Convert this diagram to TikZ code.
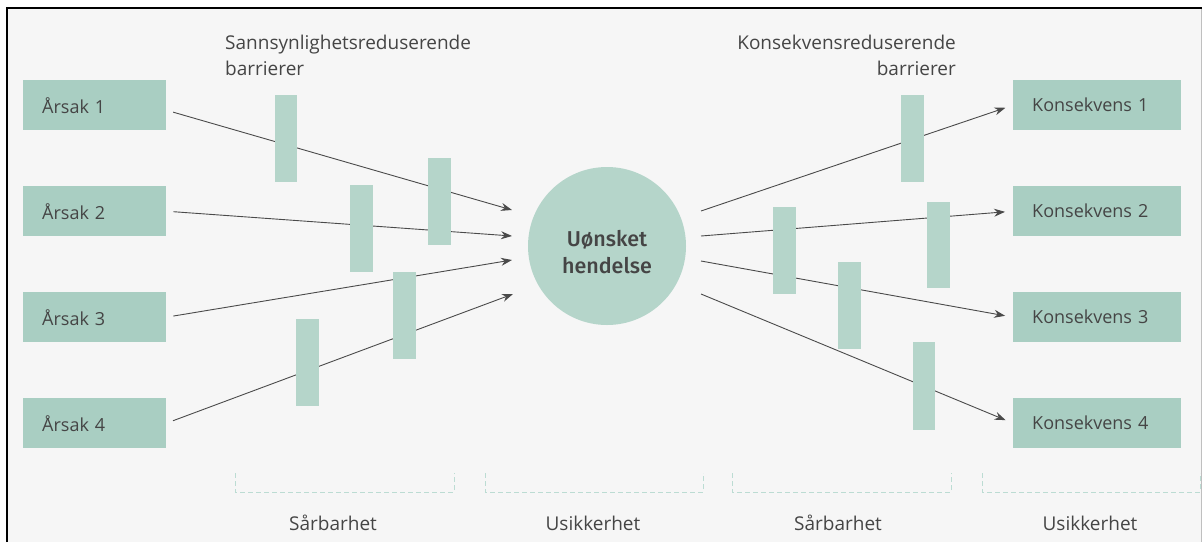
\documentclass[tikz,border=0pt]{standalone}
\usepackage{fontspec}
\setmainfont{Open Sans}
\newfontfamily\medfont{Fira Sans Medium}
\usetikzlibrary{arrows.meta}
\definecolor{bg}{HTML}{F6F6F6}
\definecolor{boxgreen}{HTML}{A9CEC2}
\definecolor{bargreen}{HTML}{B5D5CA}
\definecolor{dashgreen}{HTML}{BCDCD3}
\definecolor{txt}{HTML}{454545}
\definecolor{arrgray}{HTML}{4A4A4A}
\tikzset{
  cause/.style={fill=boxgreen, draw=none, minimum height=50pt, inner xsep=19pt,
    text width=105pt, align=left, font=\fontsize{18}{21}\selectfont, text=txt},
  effect/.style={cause, text width=130pt},
  barrier/.style={fill=bargreen, draw=none},
  flow/.style={draw=arrgray, line width=0.9pt, -{Stealth[length=11pt,width=8pt]}},
  caption/.style={font=\fontsize{19}{26}\selectfont, text=txt, inner sep=0pt},
  span/.style={draw=dashgreen, line width=1pt, dash pattern=on 5pt off 3pt}
}
\begin{document}
\begin{tikzpicture}[x=1pt,y=-1pt]
  % page, frame
  \fill[white] (0,0) rectangle (1203,542);
  \fill[bg] (7,8) rectangle (1201,542);
  \useasboundingbox (0,0) rectangle (1203,542);
  \draw[line width=2.2pt, black] (7,542) -- (7,8) -- (1202,8);
  \draw[line width=1pt, black!25] (1201.5,9) -- (1201.5,542);

  % causes and consequences
  \node[cause, anchor=north west] (a1) at (23,80) {Årsak 1};
  \node[cause, anchor=north west] (a2) at (23,186) {Årsak 2};
  \node[cause, anchor=north west] (a3) at (23,292) {Årsak 3};
  \node[cause, anchor=north west] (a4) at (23,398) {Årsak 4};
  \node[effect, anchor=north west] (k1) at (1013,80) {Konsekvens 1};
  \node[effect, anchor=north west] (k2) at (1013,186) {Konsekvens 2};
  \node[effect, anchor=north west] (k3) at (1013,292) {Konsekvens 3};
  \node[effect, anchor=north west] (k4) at (1013,398) {Konsekvens 4};

  % top event
  \node[circle, fill=bargreen, minimum size=158pt, inner sep=0pt,
        text=txt] (top) at (607,246) {};
  \node[align=center, text=txt, font=\medfont\fontsize{21.5}{27}\selectfont]
        (toptext) at (607,252) {Uønsket\\hendelse};

  % arrow ends near the top event
  \coordinate (in1) at (512,210);
  \coordinate (in2) at (512,236);
  \coordinate (in3) at (512,260);
  \coordinate (in4) at (513,294);
  \coordinate (out1) at (701,211);
  \coordinate (out2) at (701,236);
  \coordinate (out3) at (701,261);
  \coordinate (out4) at (701,294);

  \draw[flow, shorten <=7pt] (a1.east) ++(0,5) coordinate (s1) -- (in1);
  \draw[flow, shorten <=7pt] (a2.east) -- (in2);
  \draw[flow, shorten <=7pt] (a3.east) -- (in3);
  \draw[flow, shorten <=7pt] (a4.east) -- (in4);
  \draw[flow, shorten >=8pt] (out1) -- (k1.west);
  \draw[flow, shorten >=8pt] (out2) -- (k2.west);
  \draw[flow, shorten >=8pt] (out3) -- (k3.west);
  \draw[flow, shorten >=8pt] (out4) -- (k4.west);

  % probability-reducing barriers
  \fill[barrier] (275,95) rectangle (297,182);
  \fill[barrier] (350,185) rectangle (373,272);
  \fill[barrier] (428,158) rectangle (451,245);
  \fill[barrier] (393,272) rectangle (416,359);
  \fill[barrier] (296,319) rectangle (319,406);
  % consequence-reducing barriers
  \fill[barrier] (901,95) rectangle (924,182);
  \fill[barrier] (773,207) rectangle (796,294);
  \fill[barrier] (927,202) rectangle (950,288);
  \fill[barrier] (838,262) rectangle (861,349);
  \fill[barrier] (913,342) rectangle (935,430);

  % barrier captions
  \node[caption, anchor=north west, align=left] (pb) at (225,35)
    {Sannsynlighetsreduserende\\barrierer};
  \node[caption, anchor=north east, align=right] (cb) at (956,35)
    {Konsekvensreduserende\\barrierer};

  % brackets and their labels
  \draw[span] (235,473) -- (235,492) -- (454,492) -- (454,473);
  \draw[span] (485,473) -- (485,492) -- (703,492) -- (703,473);
  \draw[span] (732,473) -- (732,492) -- (951,492) -- (951,473);
  \draw[span] (982,473) -- (982,492) -- (1200,492) -- (1200,473);
  \node[caption] (v1) at (333,523) {Sårbarhet};
  \node[caption] (u1) at (593,523) {Usikkerhet};
  \node[caption] (v2) at (838,523) {Sårbarhet};
  \node[caption] (u2) at (1090,523) {Usikkerhet};
\end{tikzpicture}
\end{document}
